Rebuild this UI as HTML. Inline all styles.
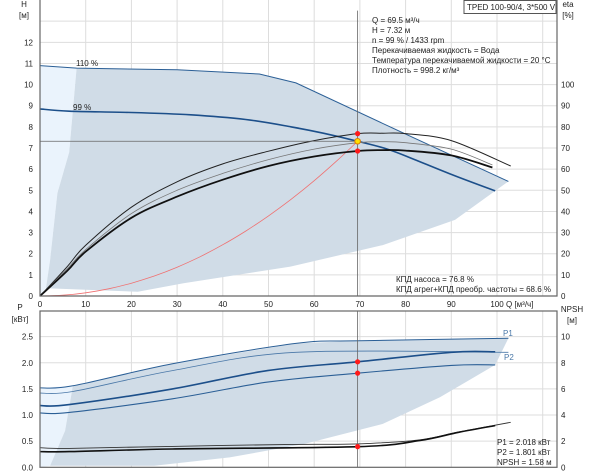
<!DOCTYPE html>
<html><head><meta charset="utf-8"><style>
body{margin:0;background:#fff;}
svg{display:block;font-family:"Liberation Sans","Noto Sans CJK SC",sans-serif;}
text{font-size:8px;fill:#222;}
</style></head><body>
<svg id="chart" width="600" height="474" viewBox="0 0 600 474" xmlns="http://www.w3.org/2000/svg">
<g id="grid"></g>
<g id="fills"></g>
<g id="curves"></g>
<g id="frames"></g>
<g id="labels"></g>
<g>
<rect x="464" y="0.5" width="92" height="13" fill="#fff" stroke="#555" stroke-width="1"/>
<text x="467" y="10">TPED 100-90/4, 3*500 V</text>
<text x="372" y="23">Q = 69.5 м³/ч</text>
<text x="372" y="33">H = 7.32 м</text>
<text x="372" y="43">n = 99 % / 1433 rpm</text>
<text x="372" y="53">Перекачиваемая жидкость = Вода</text>
<text x="372" y="63">Температура перекачиваемой жидкости = 20 °C</text>
<text x="372" y="73">Плотность = 998.2 кг/м³</text>
<text x="396" y="282">КПД насоса = 76.8 %</text>
<text x="396" y="292">КПД агрег+КПД преобр. частоты = 68.6 %</text>
<text x="497" y="445">P1 = 2.018 кВт</text>
<text x="497" y="455">P2 = 1.801 кВт</text>
<text x="497" y="465">NPSH = 1.58 м</text>
</g>
</svg>
<script>
// ---- data ----
const qTicks=[0,10,20,30,40,50,60,70,80,90,100];
const hTicks=[0,1,2,3,4,5,6,7,8,9,10,11,12];
const etaTicks=[0,10,20,30,40,50,60,70,80,90,100];
const pTicks=[0.0,0.5,1.0,1.5,2.0,2.5];
const npshTicks=[0,2,4,6,8,10];
const h110Q=[0,8,30,48,56,80,102.5];
const h110H=[10.9,10.78,10.7,10.5,10.08,7.66,5.42];
const h99Q=[0,6.4,20,33,45,55,62,69.5,76,82,90,99.6];
const h99H=[8.85,8.74,8.68,8.57,8.35,8.0,7.7,7.32,6.95,6.45,5.75,4.97];
const envLowQ=[102.5,99.6,90.8,75,54.8,31.4,21.4,2.2,1.3,2.2,3.8,6.4,8];
const envLowH=[5.42,4.97,3.6,2.41,1.39,0.6,0.2,0.36,0.35,1.7,4.86,6.8,10.78];
const etaPumpQ=[0,6,10,20,30,40,50,60,69.5,75,80,90,103];
const etaPump=[0,14,24,42,54,62.5,68.5,73.5,76.8,77,76.8,73.5,61.5];
const etaMidQ=[0,6,10,20,30,40,50,60,69.5,75,80,90,99];
const etaMid=[0,13,22,39,50,58,64.5,69.5,72.5,73,72.5,69.5,62];
const etaTotQ=[0,6,10,20,30,40,50,60,69.5,75,80,90,99];
const etaTot=[0,12,21,37,47,55,61.5,66,68.6,69,68.8,66.5,60.8];
const sysQ=[0,5,10,15,20,25,30,35,40,45,50,55,60,65,69.5];
const opQ=69.5, opH=7.32, opEtaPump=76.8, opEtaTot=68.6;
const p1HiQ=[0,7.2,29,56,70,102.5];
const p1Hi=[1.52,1.56,1.98,2.37,2.42,2.47];
const p2HiQ=[0,7.2,29,56,102.5];
const p2Hi=[1.42,1.45,1.85,2.2,2.2];
const p1Q=[0,6.4,29,49.8,69.5,90,99.6];
const p1=[1.18,1.2,1.5,1.85,2.018,2.2,2.21];
const p2Q=[0,6.4,29,49.8,69.5,90,99.6];
const p2=[1.04,1.05,1.31,1.63,1.801,1.95,1.96];
const pEnvLowQ=[102.5,99.6,87.5,75,58,41.5,25,2.2,5.5,7.2];
const pEnvLow=[2.47,1.96,1.34,0.83,0.45,0.19,0.03,0.03,0.7,1.56];
const npshQ=[0,6.4,29,69.5,83,91.6,99.6];
const npsh=[1.2,1.2,1.4,1.58,2.04,2.68,3.19];
const npshHiQ=[0,6.4,29,55,69.5,83,91.6,103];
const npshHi=[1.5,1.45,1.6,1.75,1.79,2.1,2.7,3.44];
const opP1=2.018, opP2=1.801, opNpsh=1.58;
// ---- axes ----
const X0=40,X1=557,TY0=296,BY0=467.3;
const xQ=q=>X0+q*4.57;
const yH=h=>TY0-h*21.14;
const yEta=e=>yH(e/10);
const yP=p=>BY0-p*52.27;
const yN=n=>yP(n/4);
const NS="http://www.w3.org/2000/svg";
function mk(tag,attrs,parent){const e=document.createElementNS(NS,tag);for(const k in attrs)e.setAttribute(k,attrs[k]);document.getElementById(parent).appendChild(e);return e;}
function pts(qs,vs,fy){return qs.map((q,i)=>xQ(q).toFixed(1)+","+fy(vs[i]).toFixed(1)).join(" ");}
function smooth(qs,vs,fy){let p=qs.map((q,i)=>[xQ(q),fy(vs[i])]);let d="M"+p[0][0]+","+p[0][1];for(let i=0;i<p.length-1;i++){const p0=p[i-1]||p[i],p1=p[i],p2=p[i+1],p3=p[i+2]||p2;const c1=[p1[0]+(p2[0]-p0[0])/6,p1[1]+(p2[1]-p0[1])/6],c2=[p2[0]-(p3[0]-p1[0])/6,p2[1]-(p3[1]-p1[1])/6];d+=` C${c1[0].toFixed(1)},${c1[1].toFixed(1)} ${c2[0].toFixed(1)},${c2[1].toFixed(1)} ${p2[0].toFixed(1)},${p2[1].toFixed(1)}`;}return d;}
// grid
for(let q=0;q<=110;q+=10){if(xQ(q)>X1)break;let l=mk("line",{x1:xQ(q),x2:xQ(q),y1:0,y2:TY0,stroke:"#ddd"},"grid");


let l2=mk("line",{x1:xQ(q),x2:xQ(q),y1:311,y2:BY0,stroke:"#ddd"},"grid");

}
for(let h=1;h<=13;h++){let l=mk("line",{x1:X0,x2:X1,y1:yH(h),y2:yH(h),stroke:"#ddd"},"grid");

}
for(let p=0.5;p<=2.5;p+=0.5){let l=mk("line",{x1:X0,x2:X1,y1:yP(p),y2:yP(p),stroke:"#ddd"},"grid");

}
// fills top
let lt=mk("polygon",{points:xQ(0)+","+yH(h110H[0])+" "+xQ(8)+","+yH(10.78)+" "+pts([6.4,3.8,2.2,1.3],[6.8,4.86,1.7,0.35],yH)+" "+xQ(0)+","+yH(0),fill:"#eaf3fc"},"fills");


let et=mk("polygon",{points:pts(h110Q.slice(1),h110H.slice(1),yH)+" "+pts(envLowQ,envLowH,yH),fill:"#d0dce7"},"fills");


let lb=mk("polygon",{points:xQ(0)+","+yP(p1Hi[0])+" "+xQ(7.2)+","+yP(1.56)+" "+pts([5.5,2.2],[0.7,0.03],yP)+" "+xQ(0)+","+yP(0),fill:"#eaf3fc"},"fills");


let eb=mk("polygon",{points:pts(p1HiQ.slice(1),p1Hi.slice(1),yP)+" "+pts(pEnvLowQ,pEnvLow,yP),fill:"#d0dce7"},"fills");


// curves
function curve(name,qs,vs,fy,color,w,lin){const e=mk("path",{d:lin?"M"+pts(qs,vs,fy).replace(/ /g," L"):smooth(qs,vs,fy),fill:"none",stroke:color,"stroke-width":w},"curves");

}
curve("qh-110",h110Q,h110H,yH,"#2b5f96",1,true);
curve("qh-99",h99Q,h99H,yH,"#1c4f8a",1.6,false);
curve("system-curve",sysQ,sysQ.map(q=>opH*q*q/(opQ*opQ)),yH,"#f07070",0.8,false);
curve("eta-pump",etaPumpQ,etaPump,yEta,"#222",1,false);
curve("eta-mid",etaMidQ,etaMid,yEta,"#777",0.8,false);
curve("eta-total",etaTotQ,etaTot,yEta,"#111",1.8,false);
curve("p1-110",p1HiQ,p1Hi,yP,"#2b5f96",1,false);
curve("p2-110",p2HiQ,p2Hi,yP,"#4a78a8",0.8,false);
curve("p1-99",p1Q,p1,yP,"#1c4f8a",1.6,false);
curve("p2-99",p2Q,p2,yP,"#2b5f96",1.1,false);
curve("npsh-hi",npshHiQ,npshHi,yN,"#333",0.9,false);
curve("npsh",npshQ,npsh,yN,"#111",1.6,false);
// operating lines
let vl=mk("line",{x1:xQ(opQ),x2:xQ(opQ),y1:yH(13.5),y2:TY0,stroke:"#666","stroke-width":0.8},"curves");


let vl2=mk("line",{x1:xQ(opQ),x2:xQ(opQ),y1:311,y2:BY0,stroke:"#666","stroke-width":0.8},"curves");


let hl=mk("line",{x1:X0,x2:xQ(opQ),y1:yH(opH),y2:yH(opH),stroke:"#666","stroke-width":0.8},"curves");


function dot(name,q,y,fill,r){const c=mk("circle",{cx:xQ(q),cy:y,r:r,fill:fill,stroke:fill=="#ffe000"?"#e08000":"none"},"curves");

}
dot("op-eta-pump",opQ,yEta(opEtaPump),"#ff1a1a",2.6);
dot("op-eta-total",opQ,yEta(opEtaTot),"#ff1a1a",2.6);
dot("op-point",opQ,yH(opH),"#ffe000",2.8);
dot("op-p1",opQ,yP(opP1),"#ff1a1a",2.6);
dot("op-p2",opQ,yP(opP2),"#ff1a1a",2.6);
dot("op-npsh",opQ,yN(opNpsh),"#ff1a1a",2.6);
// frames
let f1=mk("polyline",{points:`${X0},0 ${X0},${TY0} ${X1},${TY0} ${X1},0`,fill:"none",stroke:"#666","stroke-width":1.2},"frames");


let f2=mk("rect",{x:X0,y:311,width:X1-X0,height:BY0-311,fill:"none",stroke:"#666","stroke-width":1.2},"frames");


// labels
function txt(name,x,y,s,anchor,fill){const t=mk("text",{x:x,y:y,"text-anchor":anchor||"start"},"labels");if(fill)t.setAttribute("style","fill:"+fill);t.textContent=s;

}
qTicks.forEach(q=>txt("x-tick-label",xQ(q),307,String(q),"middle"));
hTicks.forEach(h=>txt("h-tick-label",33,yH(h)+3,String(h),"end"));
etaTicks.forEach(e=>txt("eta-tick-label",561,yEta(e)+3,String(e)));
pTicks.forEach(p=>txt("p-tick-label",33,yP(p)+3,p.toFixed(1),"end"));
npshTicks.forEach(n=>txt("npsh-tick-label",561,yN(n)+3,String(n)));
txt("x-axis-title",506,307,"Q [м³/ч]");
txt("h-axis-title",24,7,"H","middle");
txt("h-axis-unit",24,18,"[м]","middle");
txt("eta-axis-title",568,7,"eta","middle");
txt("eta-axis-unit",568,18,"[%]","middle");
txt("p-axis-title",20,310,"P","middle");
txt("p-axis-unit",20,322,"[кВт]","middle");
txt("npsh-axis-title",572,312,"NPSH","middle");
txt("npsh-axis-unit",572,323,"[м]","middle");
txt("label-110",76,66,"110 %");
txt("label-99",73,110,"99 %");
txt("label-p1",503,336,"P1",null,"#4a78a8");
txt("label-p2",504,360,"P2",null,"#4a78a8");
</script>
</body></html>
